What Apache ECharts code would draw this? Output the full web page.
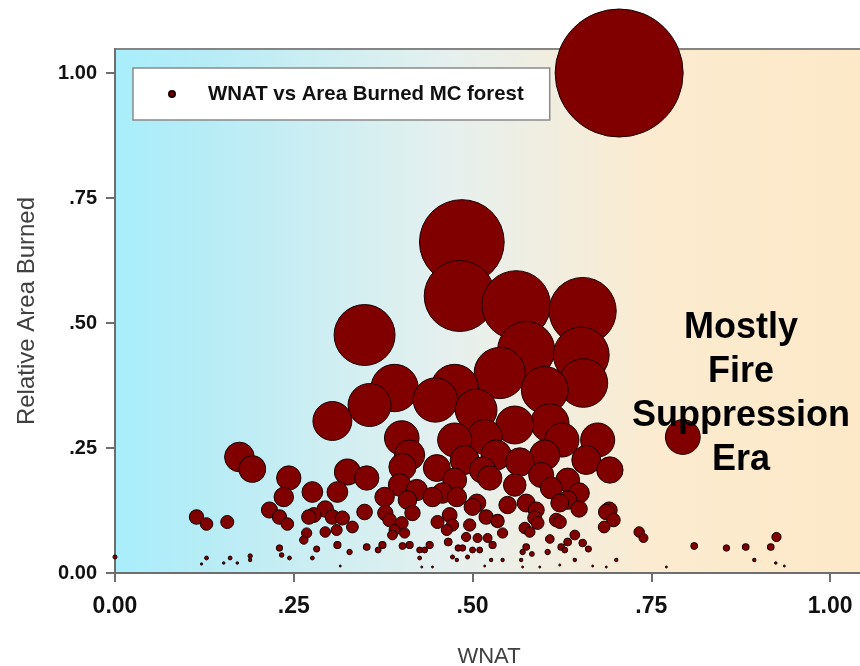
<!DOCTYPE html>
<html>
<head>
<meta charset="utf-8">
<script src="https://cdn.jsdelivr.net/npm/echarts@6/dist/echarts.min.js"></script>
<style>html,body{margin:0;padding:0;background:#fff}#c{width:860px;height:666px}</style>
</head>
<body>
<div id="c"></div>
<script>
// WNAT (x) values
var wnat = [
 0.705, 0.485, 0.482, 0.561, 0.654, 0.349, 0.652, 0.575, 0.655, 0.538,
 0.391, 0.475, 0.448, 0.356, 0.505, 0.601, 0.304, 0.608, 0.559, 0.794,
 0.401, 0.517, 0.475, 0.174, 0.192,
 0.625, 0.566, 0.601, 0.533, 0.489, 0.659, 0.596, 0.524, 0.475, 0.692,
 0.675, 0.412, 0.633, 0.559,
 0.000, 0.114, 0.128, 0.157, 0.128, 0.121, 0.152, 0.161, 0.171, 0.189,
 0.189, 0.216, 0.230, 0.241, 0.236, 0.243, 0.230, 0.233, 0.244, 0.264,
 0.268, 0.276, 0.271, 0.278, 0.294, 0.304, 0.294, 0.310, 0.318, 0.311,
 0.325, 0.352, 0.332, 0.282, 0.276, 0.311, 0.328, 0.349, 0.352, 0.315,
 0.368, 0.374, 0.377, 0.378, 0.384, 0.391, 0.388, 0.401, 0.398, 0.402,
 0.409, 0.416, 0.422, 0.405, 0.402, 0.412, 0.426, 0.433, 0.440, 0.426,
 0.429, 0.444, 0.450, 0.444, 0.458, 0.451, 0.464, 0.468, 0.472, 0.478,
 0.466, 0.480, 0.486, 0.491, 0.496, 0.500, 0.506, 0.493, 0.507, 0.514,
 0.519, 0.521, 0.510, 0.472, 0.478, 0.526, 0.517,
 0.500, 0.528, 0.542, 0.535, 0.549, 0.575, 0.573, 0.580, 0.587, 0.591,
 0.589, 0.570, 0.583, 0.575, 0.605, 0.608, 0.617, 0.622, 0.610, 0.622,
 0.633, 0.649, 0.649, 0.643, 0.633, 0.624, 0.629, 0.662, 0.654, 0.687,
 0.691, 0.697, 0.684, 0.733, 0.739, 0.810, 0.855, 0.882, 0.917, 0.925,
 0.894, 0.924, 0.936, 0.771, 0.701, 0.687, 0.668, 0.643, 0.622, 0.594,
 0.570, 0.542, 0.568
];
// Relative area burned (y) values
var burned = [
 1.000, 0.662, 0.554, 0.536, 0.524, 0.476, 0.436, 0.446, 0.380, 0.400,
 0.370, 0.370, 0.346, 0.336, 0.326, 0.366, 0.304, 0.300, 0.296, 0.272,
 0.270, 0.272, 0.266, 0.232, 0.208,
 0.266, 0.222, 0.236, 0.236, 0.226, 0.226, 0.196, 0.190, 0.186, 0.206,
 0.266, 0.236, 0.186, 0.176,
 0.032, 0.112, 0.098, 0.102, 0.030, 0.018, 0.020, 0.030, 0.020, 0.034,
 0.026, 0.126, 0.112, 0.098, 0.152, 0.190, 0.050, 0.036, 0.030, 0.066,
 0.080, 0.162, 0.112, 0.116, 0.128, 0.112, 0.082, 0.086, 0.110, 0.162,
 0.202, 0.190, 0.092, 0.048, 0.030, 0.056, 0.042, 0.122, 0.052, 0.014,
 0.046, 0.056, 0.152, 0.120, 0.106, 0.086, 0.076, 0.100, 0.176, 0.212,
 0.146, 0.120, 0.166, 0.080, 0.054, 0.056, 0.046, 0.046, 0.056, 0.030,
 0.012, 0.012, 0.210, 0.152, 0.160, 0.102, 0.086, 0.116, 0.096, 0.152,
 0.062, 0.050, 0.050, 0.072, 0.096, 0.132, 0.140, 0.032, 0.070, 0.206,
 0.112, 0.070, 0.046, 0.032, 0.026, 0.026, 0.014,
 0.046, 0.056, 0.080, 0.104, 0.136, 0.140, 0.090, 0.082, 0.110, 0.100,
 0.126, 0.042, 0.038, 0.052, 0.042, 0.068, 0.106, 0.102, 0.170, 0.140,
 0.146, 0.160, 0.128, 0.076, 0.062, 0.052, 0.046, 0.048, 0.060, 0.122,
 0.126, 0.106, 0.092, 0.082, 0.070, 0.054, 0.050, 0.052, 0.052, 0.072,
 0.026, 0.020, 0.014, 0.012, 0.026, 0.012, 0.014, 0.026, 0.016, 0.012,
 0.012, 0.026, 0.026
];
var tickValues = [0, 0.25, 0.5, 0.75, 1.0];
var tickLabels = ['0.00', '.25', '.50', '.75', '1.00'];
var seriesName = 'WNAT vs Area Burned MC forest';
var noteText = 'Mostly\nFire\nSuppression\nEra';

var pts = wnat.map(function (x, i) { return [x, burned[i]]; });
pts.sort(function (a, b) { return b[1] - a[1]; });

function fmt(v) {
  for (var i = 0; i < tickValues.length; i++) if (Math.abs(v - tickValues[i]) < 1e-9) return tickLabels[i];
  return '';
}
var FONT = 'Liberation Sans';
var chart = echarts.init(document.getElementById('c'), null, {renderer: 'canvas'});
chart.setOption({
  animation: false,
  backgroundColor: '#ffffff',
  grid: {
    left: 115, top: 49, right: -3, bottom: 93,
    containLabel: false,
    outerBoundsMode: 'none',
    show: true,
    borderColor: '#858585', borderWidth: 2,
    backgroundColor: {
      type: 'linear', x: 0, y: 0, x2: 1, y2: 0,
      colorStops: [
        {offset: 0, color: '#a8eefc'},
        {offset: 0.12, color: '#b6ecf6'},
        {offset: 0.45, color: '#e6f0ee'},
        {offset: 0.72, color: '#fcebd0'},
        {offset: 1, color: '#fde9c8'}
      ]
    }
  },
  legend: {
    left: 133, top: 68,
    orient: 'horizontal',
    padding: [16, 26, 16, 35],
    backgroundColor: '#ffffff',
    borderColor: '#8a8a8a', borderWidth: 1.5,
    itemWidth: 6, itemHeight: 6,
    icon: 'circle',
    textStyle: {fontFamily: FONT, fontWeight: 'bold', fontSize: 20.4, color: '#111', padding: [0, 0, 0, 28]},
    data: [seriesName]
  },
  xAxis: {
    type: 'value', min: 0, max: 1.046,
    name: 'WNAT', nameLocation: 'middle', nameGap: 73,
    nameTextStyle: {fontFamily: FONT, fontSize: 22, color: '#404040'},
    axisLine: {show: true, onZero: false, lineStyle: {color: '#6e6e6e', width: 2}},
    axisTick: {show: true, length: 9, customValues: tickValues, lineStyle: {color: '#6e6e6e', width: 2}},
    axisLabel: {customValues: tickValues, formatter: fmt, margin: 22, fontFamily: FONT, fontWeight: 'bold', fontSize: 23, color: '#111'},
    splitLine: {show: false}
  },
  yAxis: {
    type: 'value', min: 0, max: 1.048,
    name: 'Relative Area Burned', nameLocation: 'middle', nameGap: 76,
    nameTextStyle: {fontFamily: FONT, fontSize: 24, color: '#404040'},
    axisLine: {show: true, onZero: false, lineStyle: {color: '#6e6e6e', width: 2}},
    axisTick: {show: true, length: 9, customValues: tickValues, lineStyle: {color: '#6e6e6e', width: 2}},
    axisLabel: {customValues: tickValues, formatter: fmt, margin: 18, fontFamily: FONT, fontWeight: 'bold', fontSize: 20, color: '#111'},
    splitLine: {show: false}
  },
  graphic: [{
    type: 'text', x: 741, y: 306, z: 10,
    style: {text: noteText, font: 'bold 36px "Liberation Sans"', fill: '#000', textAlign: 'center', textVerticalAlign: 'top', lineHeight: 44}
  }],
  series: [{
    name: seriesName,
    type: 'scatter',
    data: pts,
    symbol: 'circle',
    symbolSize: function (v) { return Math.max(v[1] * 128, 2); },
    itemStyle: {color: '#800000', borderColor: '#1a0000', borderWidth: 1, opacity: 1},
    emphasis: {disabled: true},
    clip: false
  }]
});
</script>
</body>
</html>
